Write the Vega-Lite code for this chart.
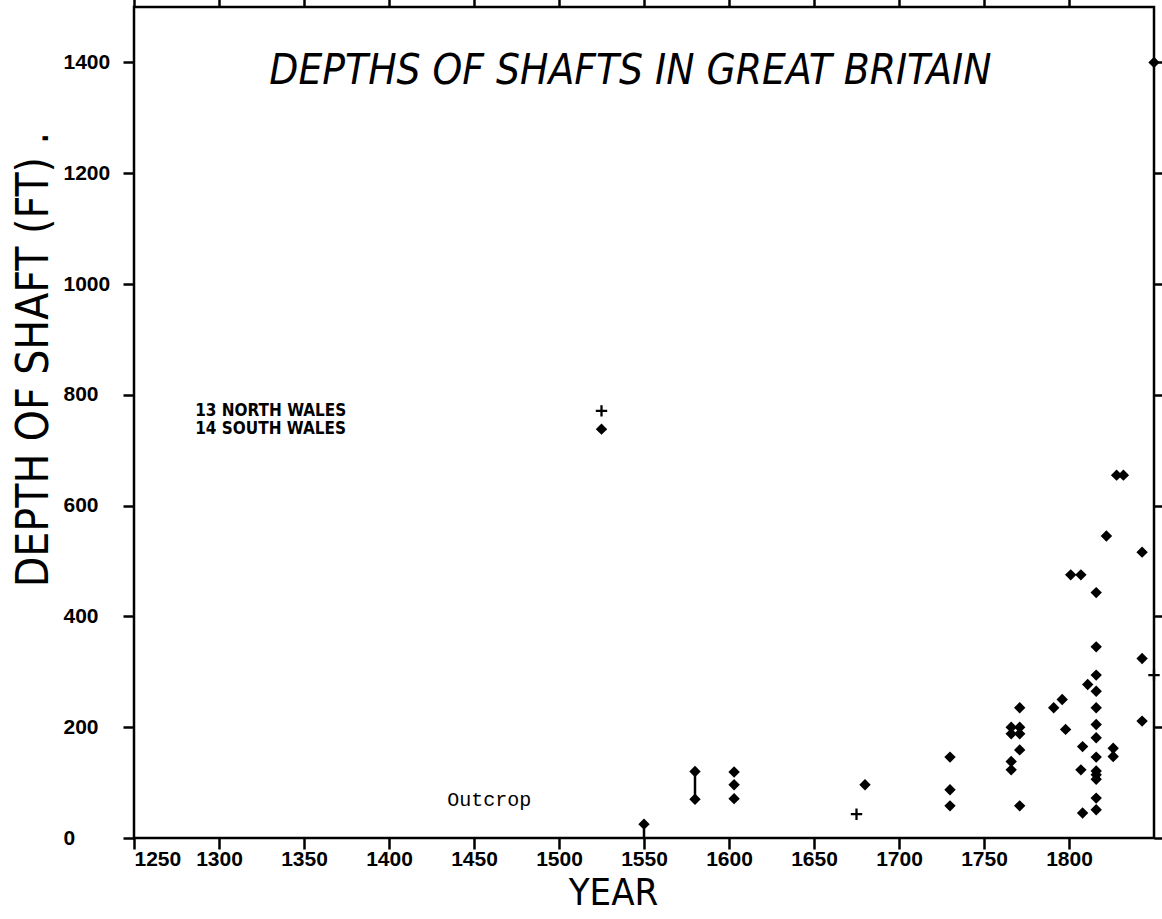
{
  "$schema": "https://vega.github.io/schema/vega-lite/v6.json",
  "autosize": {"type": "none"},
  "padding": {"left": 134, "top": 7, "right": 8, "bottom": 81},
  "width": 1020,
  "height": 831,
  "background": "white",
  "config": {
    "view": {"stroke": "black", "strokeWidth": 2.5},
    "axis": {"domain": false, "grid": false, "ticks": true, "tickColor": "black", "tickWidth": 2.5, "tickOpacity": 1, "tickSize": 11}
  },
  "resolve": {"axis": {"x": "independent", "y": "independent"}},
  "layer": [
    {
      "data": {"values": [
        {"year": 1525, "depth": 771, "region": "North Wales"},
        {"year": 1675, "depth": 43, "region": "North Wales"},
        {"year": 1850, "depth": 294, "region": "North Wales"},
        {"year": 1525, "depth": 738, "region": "South Wales"},
        {"year": 1550, "depth": 25, "region": "South Wales"},
        {"year": 1580, "depth": 120, "region": "South Wales"},
        {"year": 1580, "depth": 70, "region": "South Wales"},
        {"year": 1603, "depth": 119, "region": "South Wales"},
        {"year": 1603, "depth": 96, "region": "South Wales"},
        {"year": 1603, "depth": 71, "region": "South Wales"},
        {"year": 1680, "depth": 96, "region": "South Wales"},
        {"year": 1730, "depth": 146, "region": "South Wales"},
        {"year": 1730, "depth": 87, "region": "South Wales"},
        {"year": 1730, "depth": 58, "region": "South Wales"},
        {"year": 1766, "depth": 138, "region": "South Wales"},
        {"year": 1766, "depth": 123, "region": "South Wales"},
        {"year": 1766, "depth": 200, "region": "South Wales"},
        {"year": 1766, "depth": 188, "region": "South Wales"},
        {"year": 1771, "depth": 200, "region": "South Wales"},
        {"year": 1771, "depth": 188, "region": "South Wales"},
        {"year": 1771, "depth": 235, "region": "South Wales"},
        {"year": 1771, "depth": 159, "region": "South Wales"},
        {"year": 1771, "depth": 58, "region": "South Wales"},
        {"year": 1791, "depth": 235, "region": "South Wales"},
        {"year": 1796, "depth": 250, "region": "South Wales"},
        {"year": 1798, "depth": 196, "region": "South Wales"},
        {"year": 1801, "depth": 475, "region": "South Wales"},
        {"year": 1807, "depth": 475, "region": "South Wales"},
        {"year": 1822, "depth": 545, "region": "South Wales"},
        {"year": 1816, "depth": 443, "region": "South Wales"},
        {"year": 1816, "depth": 345, "region": "South Wales"},
        {"year": 1816, "depth": 294, "region": "South Wales"},
        {"year": 1811, "depth": 277, "region": "South Wales"},
        {"year": 1816, "depth": 265, "region": "South Wales"},
        {"year": 1816, "depth": 235, "region": "South Wales"},
        {"year": 1816, "depth": 205, "region": "South Wales"},
        {"year": 1816, "depth": 181, "region": "South Wales"},
        {"year": 1808, "depth": 165, "region": "South Wales"},
        {"year": 1816, "depth": 146, "region": "South Wales"},
        {"year": 1807, "depth": 123, "region": "South Wales"},
        {"year": 1816, "depth": 121, "region": "South Wales"},
        {"year": 1816, "depth": 114, "region": "South Wales"},
        {"year": 1816, "depth": 106, "region": "South Wales"},
        {"year": 1816, "depth": 72, "region": "South Wales"},
        {"year": 1808, "depth": 45, "region": "South Wales"},
        {"year": 1816, "depth": 51, "region": "South Wales"},
        {"year": 1826, "depth": 162, "region": "South Wales"},
        {"year": 1826, "depth": 147, "region": "South Wales"},
        {"year": 1843, "depth": 516, "region": "South Wales"},
        {"year": 1843, "depth": 324, "region": "South Wales"},
        {"year": 1843, "depth": 211, "region": "South Wales"},
        {"year": 1828, "depth": 655, "region": "South Wales"},
        {"year": 1832, "depth": 655, "region": "South Wales"},
        {"year": 1850, "depth": 1400, "region": "South Wales"}
      ]},
      "mark": {"type": "point", "filled": true, "color": "black", "opacity": 1, "size": 130, "clip": false},
      "encoding": {
        "x": {"field": "year", "type": "quantitative",
          "scale": {"domain": [1250, 1850], "nice": false, "zero": false},
          "axis": {"orient": "bottom", "values": [1250,1300,1350,1400,1450,1500,1550,1600,1650,1700,1750,1800],
            "format": "d", "labelPadding": -1, "labelBaseline": "top", "labelDx": 8,
            "labelFont": "Liberation Sans", "labelFontSize": 21, "labelFontWeight": "bold", "labelColor": "black",
            "title": "YEAR", "titleFont": "DejaVu Sans Condensed", "titleFontSize": 38, "titleFontWeight": "normal",
            "titleColor": "black", "titleX": 479, "titleY": 55, "titleBaseline": "middle", "titleAlign": "center"}},
        "y": {"field": "depth", "type": "quantitative",
          "scale": {"domain": [0, 1500], "nice": false, "zero": true},
          "axis": {"orient": "left", "values": [0,200,400,600,800,1000,1200,1400],
            "format": "d", "labelPadding": 60, "labelAlign": "left", "labelBaseline": "middle",
            "labelFont": "Liberation Sans", "labelFontSize": 21, "labelFontWeight": "bold", "labelColor": "black",
            "title": "DEPTH OF SHAFT (FT) .", "titleFont": "DejaVu Sans Condensed", "titleFontSize": 44, "titleFontWeight": "normal",
            "titleColor": "black", "titleX": -100, "titleY": 352, "titleBaseline": "middle", "titleAlign": "center", "titleAngle": -90}},
        "shape": {"field": "region", "type": "nominal",
          "scale": {"domain": ["North Wales", "South Wales"], "range": ["M-1,-0.2H1V0.2H-1Z M-0.2,-1H0.2V1H-0.2Z", "diamond"]}, "legend": null}
      }
    },
    {
      "data": {"values": [
        {"year": 1550, "lo": 0, "hi": 25},
        {"year": 1580, "lo": 70, "hi": 120}
      ]},
      "mark": {"type": "rule", "color": "black", "strokeWidth": 2.5},
      "encoding": {
        "x": {"field": "year", "type": "quantitative",
          "axis": {"orient": "top", "values": [1250,1300,1350,1400,1450,1500,1550,1600,1650,1700,1750,1800],
            "labels": false, "title": null}},
        "y": {"field": "lo", "type": "quantitative",
          "axis": {"orient": "right", "values": [0,200,400,600,800,1000,1200,1400],
            "labels": false, "title": null}},
        "y2": {"field": "hi"}
      }
    },
    {
      "data": {"values": [
        {"label": "13 NORTH WALES", "year": 1286, "depth": 771},
        {"label": "14 SOUTH WALES", "year": 1286, "depth": 738}
      ]},
      "mark": {"type": "text", "align": "left", "baseline": "middle", "font": "DejaVu Sans Condensed", "fontWeight": "bold", "fontSize": 17, "color": "black"},
      "encoding": {
        "x": {"field": "year", "type": "quantitative", "axis": null},
        "y": {"field": "depth", "type": "quantitative", "axis": null},
        "text": {"field": "label"}
      }
    },
    {
      "data": {"values": [
        {"label": "DEPTHS OF SHAFTS IN GREAT BRITAIN", "year": 1542, "depth": 1361}
      ]},
      "mark": {"type": "text", "align": "center", "baseline": "alphabetic", "font": "DejaVu Sans Condensed", "fontStyle": "italic", "fontWeight": 300, "fontSize": 42, "color": "black"},
      "encoding": {
        "x": {"field": "year", "type": "quantitative", "axis": null},
        "y": {"field": "depth", "type": "quantitative", "axis": null},
        "text": {"field": "label"}
      }
    },
    {
      "data": {"values": [
        {"label": "Outcrop", "year": 1459, "depth": 68}
      ]},
      "mark": {"type": "text", "align": "center", "baseline": "middle", "font": "Liberation Mono", "fontSize": 20, "color": "black"},
      "encoding": {
        "x": {"field": "year", "type": "quantitative", "axis": null},
        "y": {"field": "depth", "type": "quantitative", "axis": null},
        "text": {"field": "label"}
      }
    }
  ]
}
